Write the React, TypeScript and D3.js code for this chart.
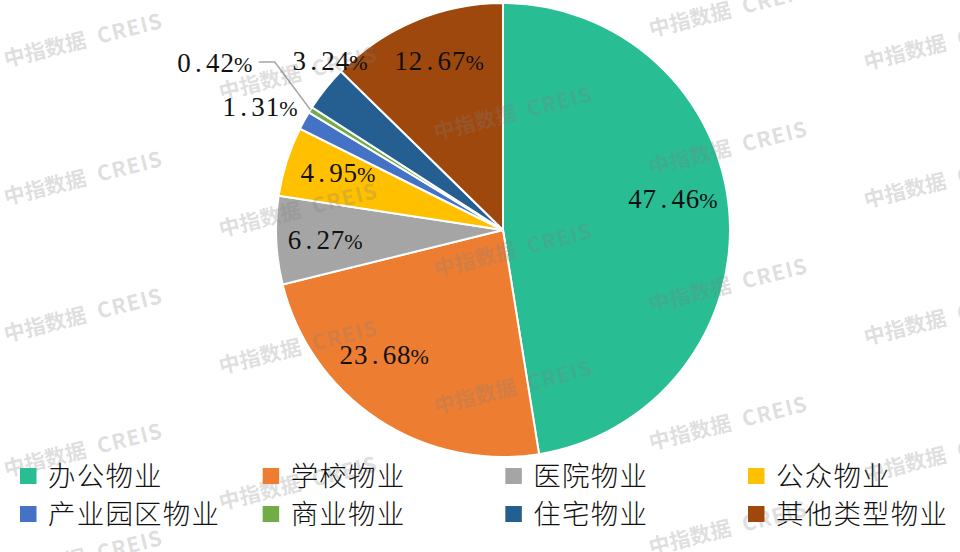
import * as React from 'react';
import * as d3 from 'd3';

const categories = ['办公物业', '学校物业', '医院物业', '公众物业', '产业园区物业', '商业物业', '住宅物业', '其他类型物业'];
const shares = [47.46, 23.68, 6.27, 4.95, 1.31, 0.42, 3.24, 12.67];
const colors = ['#29BD94', '#ED7D31', '#A5A5A5', '#FFC000', '#4472C4', '#70AD47', '#255E91', '#9E480E'];

// label nudges away from the slice centroid
const labelNudge = [[-1.5, -17.5], [-27, -17], [-10, 2], [-5, -6], [-96, -41], [-146, -77], [-42, -63], [0, -12]];

// watermark start points, one list of baselines per column
const markColumns = [6, 221, 436, 651, 866];
const markRows = [[67, 205, 342, 477, 584], [100, 237, 374, 510], [140, 277, 414], [37, 175, 312, 450, 555], [70, 208, 345, 482]];

const width = 960;
const height = 552;
const cx = 503;
const cy = 230;
const radius = 227;
const serif = '"Liberation Serif", serif';
const cjk = '"Noto Sans CJK SC", sans-serif';

const pie = d3.pie<number>().sort(null).value(d => d);
const arc = d3.arc<d3.PieArcDatum<number>>().innerRadius(0).outerRadius(radius);
const labelArc = d3.arc<d3.PieArcDatum<number>>().innerRadius(170).outerRadius(170);
const edgeArc = d3.arc<d3.PieArcDatum<number>>().innerRadius(radius).outerRadius(radius);
const legendX = d3.scalePoint<number>().domain([0, 1, 2, 3]).range([20, 748]);
const legendY = d3.scalePoint<number>().domain([0, 1]).range([476, 514]);

function PercentLabel({ x, y, value }: { x: number; y: number; value: number }) {
    // the source font sets every character in the same cell width
    const str = value.toFixed(2) + '%';
    const cell = 14.4;
    const xs = str.split('').map((_, i) => x + (i - (str.length - 1) / 2) * cell + (i === str.length - 1 ? 1.5 : 0));
    return (
        <text x={xs.join(' ')} y={y + 9} fontFamily={serif} fontSize={27} textAnchor="middle" fill="#111">
            {str.slice(0, -1)}<tspan fontSize={22}>%</tspan>
        </text>
    );
}

export default function App() {
    const slices = pie(shares);
    const thin = slices[5];
    const [thinX, thinY] = labelArc.centroid(thin);
    const [edgeX, edgeY] = edgeArc.centroid(thin);
    const lineY = thinY + labelNudge[5][1] - 1;
    const lineX = thinX + labelNudge[5][0];
    const leader = d3.line()([[lineX + 46, lineY], [lineX + 62, lineY], [edgeX, edgeY]]) as string;

    return (
        <svg width={width} height={height} style={{ position: 'absolute', left: 0, top: 0, background: '#fff' }}>
            <g transform={`translate(${cx},${cy})`}>
                {slices.map((d, i) => (
                    <path key={i} d={arc(d) as string} fill={colors[i]} stroke="#fff" strokeWidth={2} />
                ))}
                <path d={leader} fill="none" stroke="#A6A6A6" strokeWidth={1.5} />
            </g>
            <g>
                {markColumns.map((x, c) => markRows[c].map(y => (
                    <text key={`${c}-${y}`} transform={`translate(${x},${y}) rotate(-14)`}
                        fontFamily={cjk} fontWeight={700} fontSize={21} fill="#7f7f7f" fillOpacity={0.27}>
                        中指数据<tspan dx={12} letterSpacing={1.2}>CREIS</tspan>
                    </text>
                )))}
            </g>
            <g transform={`translate(${cx},${cy})`}>
                {slices.map((d, i) => {
                    const [lx, ly] = labelArc.centroid(d);
                    return <PercentLabel key={i} x={lx + labelNudge[i][0]} y={ly + labelNudge[i][1]} value={shares[i]} />;
                })}
            </g>
            <g>
                {categories.map((name, i) => {
                    const x = legendX(i % 4) as number;
                    const y = legendY(Math.floor(i / 4)) as number;
                    return (
                        <g key={name} transform={`translate(${x},${y})`}>
                            <rect x={0} y={-8} width={16.5} height={16} fill={colors[i]} />
                            <text x={28} y={10} fontFamily={cjk} fontWeight={300} fontSize={27.5} letterSpacing={1.2} fill="#111">{name}</text>
                        </g>
                    );
                })}
            </g>
        </svg>
    );
}
